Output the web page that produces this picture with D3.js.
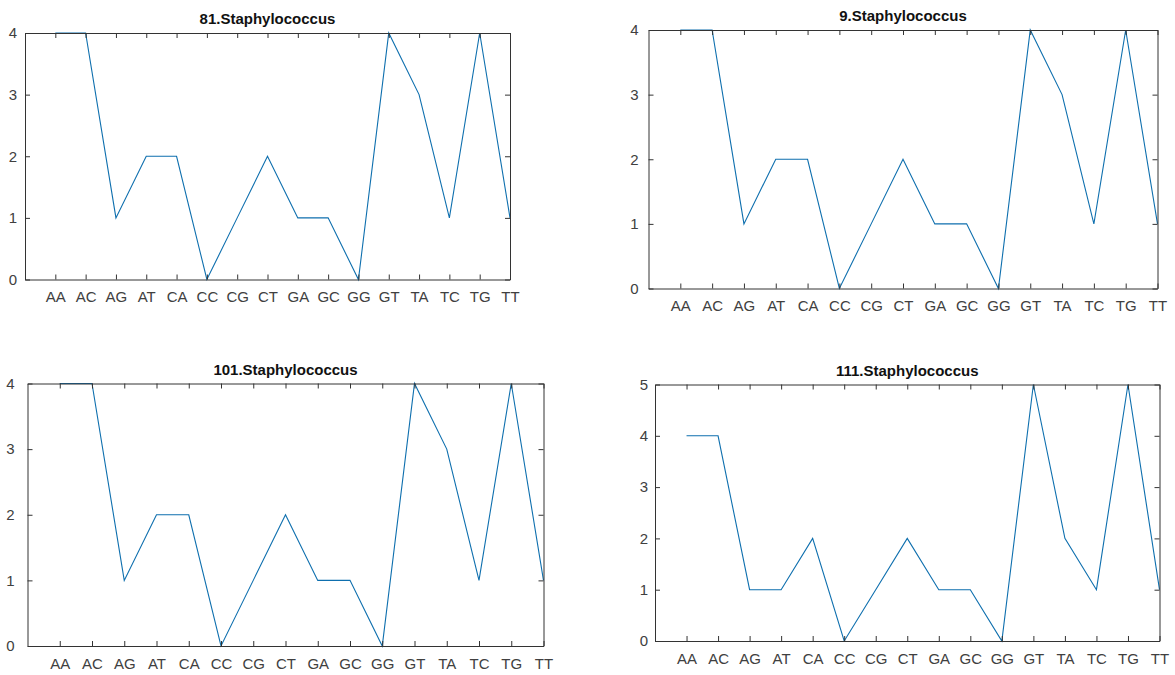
<!DOCTYPE html>
<html>
<head>
<meta charset="utf-8">
<script src="https://cdn.jsdelivr.net/npm/d3@7"></script>
<style>
  html, body { margin: 0; padding: 0; background: #fff; }
  svg { display: block; }
  text { font-family: "Liberation Sans", Arial, Helvetica, sans-serif; }
</style>
</head>
<body>
<svg id="chart" width="1175" height="675"></svg>
<script>
// Dinucleotide labels along the x axis
const dinucleotides = ["AA","AC","AG","AT","CA","CC","CG","CT","GA","GC","GG","GT","TA","TC","TG","TT"];

// Counts per dinucleotide for each isolate
const counts81  = [4,4,1,2,2,0,1,2,1,1,0,4,3,1,4,1];
const counts9   = [4,4,1,2,2,0,1,2,1,1,0,4,3,1,4,1];
const counts101 = [4,4,1,2,2,0,1,2,1,1,0,4,3,1,4,1];
const counts111 = [4,4,1,1,2,0,1,2,1,1,0,5,2,1,5,1];

// Panel titles
const titles = ["81.Staphylococcus","9.Staphylococcus","101.Staphylococcus","111.Staphylococcus"];

// Y tick values per panel
const yTicks4 = [0,1,2,3,4];
const yTicks5 = [0,1,2,3,4,5];

// Subplot frames (left, right, top, bottom in px)
const panels = [
  { title: titles[0], values: counts81,  yMax: 4, yTicks: yTicks4, l: 25,    r: 510,    t: 33,    b: 279.5, yGap: 8 },
  { title: titles[1], values: counts9,   yMax: 4, yTicks: yTicks4, l: 648.5, r: 1157.5, t: 30,    b: 288.5, yGap: 10 },
  { title: titles[2], values: counts101, yMax: 4, yTicks: yTicks4, l: 27.5,  r: 543.5,  t: 383.5, b: 646,   yGap: 13 },
  { title: titles[3], values: counts111, yMax: 5, yTicks: yTicks5, l: 655,   r: 1159.5, t: 384.5, b: 641,   yGap: 7 }
];

const svg = d3.select("#chart");
const axisColor = "#333333";
const labelColor = "#404040";
const lineColor = "#0e6fae";
const tickLen = 5;

panels.forEach(p => {
  const x = d3.scaleLinear().domain([0, dinucleotides.length]).range([p.l, p.r]);
  const y = d3.scaleLinear().domain([0, p.yMax]).range([p.b, p.t]);
  const idx = dinucleotides.map((_, i) => i + 1);

  const g = svg.append("g");

  // Data line
  const line = d3.line()
    .x((d, i) => x(i + 1))
    .y(d => y(d));
  g.append("path")
    .datum(p.values)
    .attr("fill", "none")
    .attr("stroke", lineColor)
    .attr("stroke-width", 1.1)
    .attr("stroke-linejoin", "miter")
    .attr("d", line);

  // Bottom axis with inward ticks
  const bottom = g.append("g")
    .attr("transform", `translate(0,${p.b})`)
    .call(d3.axisBottom(x).tickValues(idx)
      .tickFormat(i => dinucleotides[i - 1])
      .tickSizeInner(-tickLen).tickSizeOuter(0).tickPadding(12));
  // Top axis (ticks only)
  const top = g.append("g")
    .attr("transform", `translate(0,${p.t})`)
    .call(d3.axisTop(x).tickValues(idx).tickFormat("")
      .tickSizeInner(-tickLen).tickSizeOuter(0));
  // Left axis with inward ticks
  const left = g.append("g")
    .attr("transform", `translate(${p.l},0)`)
    .call(d3.axisLeft(y).tickValues(p.yTicks).tickFormat(d3.format("d"))
      .tickSizeInner(-tickLen).tickSizeOuter(0).tickPadding(p.yGap));
  // Right axis (ticks only)
  const right = g.append("g")
    .attr("transform", `translate(${p.r},0)`)
    .call(d3.axisRight(y).tickValues(p.yTicks).tickFormat("")
      .tickSizeInner(-tickLen).tickSizeOuter(0));

  [bottom, top, left, right].forEach(a => {
    a.select(".domain").attr("stroke", axisColor).attr("stroke-width", 1);
    a.selectAll(".tick line").attr("stroke", axisColor).attr("stroke-width", 1);
    a.selectAll(".tick text")
      .attr("fill", labelColor)
      .style("font-size", "15px")
      .style("font-family", "'Liberation Sans', Arial, sans-serif");
  });

  // Title
  g.append("text")
    .attr("x", (p.l + p.r) / 2)
    .attr("y", p.t - 9)
    .attr("text-anchor", "middle")
    .attr("fill", "#111")
    .style("font-size", "15px")
    .style("font-weight", "bold")
    .text(p.title);
});
</script>
</body>
</html>
